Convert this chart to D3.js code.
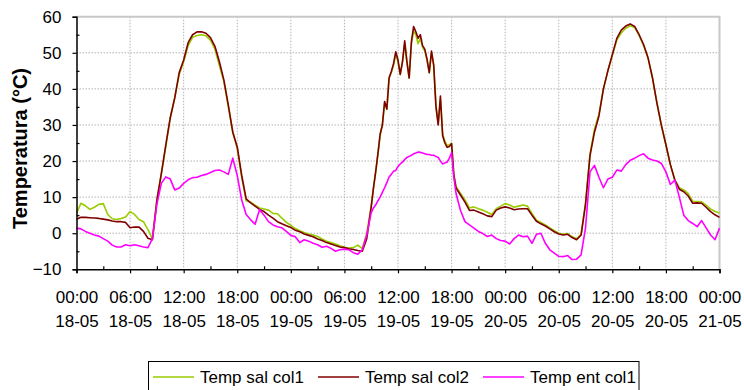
<!DOCTYPE html>
<html>
<head>
<meta charset="utf-8">
<script src="https://cdn.jsdelivr.net/npm/d3@7"></script>
<style>
  html, body { margin: 0; padding: 0; background: #fff; }
  svg { display: block; font-family: "Liberation Sans", Arial, sans-serif; }
</style>
</head>
<body>
<svg id="chart" width="744" height="390"></svg>
<script>
// Sample times in hours from 18-05 00:00 (15-minute readings during the noisy midday of 19-05)
const hours = [
  ...d3.range(0, 33, 0.5),
  ...d3.range(33, 42.5, 0.25),
  ...d3.range(42.5, 72.001, 0.5)
];

// Temp sal col1 (°C)
const salCol1 = [
  5.5, 8.3, 7.6, 6.6, 7.2, 8.0, 8.2, 5.2, 4.0, 3.8, 4.1, 4.5, 6.0, 5.2, 3.8, 3.2, 1.0, -1.5,
  9.5, 16.5, 24, 32, 37.5, 44, 47.5, 52, 54.3, 54.8, 55, 54.7, 53.5, 51, 46.5, 42, 35, 28,
  23.5, 15.5, 9, 8.6, 7.8, 7.0, 6.7, 6.4, 5.5, 5.4, 4.2, 3.0,
  2.2, 1.3, 0.7, 0.2, -0.2, -0.5, -0.9, -1.6, -2.2, -2.6, -3.0, -3.5, -3.9, -4.1, -4.0, -3.3, -4.3, 0.0,
  7.5, 12.5, 17, 22, 27, 30, 36, 34.4, 43, 44.5, 46.5, 49.5,
  47.5, 44, 47.5, 52.5, 47.5, 43, 52.5, 56, 55, 52.5, 54, 51.5,
  50.5, 48, 44.5, 50, 46.5, 35.5, 30.5, 37, 27.5, 25.5, 24.3, 24.5, 25, 16.5,
  13, 11, 9.2, 7, 7.3, 6.8, 6.4, 5.8, 5.2, 6.8, 7.5, 8.2,
  7.8, 7.2, 7.5, 7.8, 7.5, 5.5, 3.6, 3.0, 2.3, 1.5, 0.7, 0.0, -0.3, -0.1, -1.0, -1.5, -0.3,
  8.5, 22, 28.8, 33, 40, 45, 49.3, 53.5, 55.5, 56.8, 57.5, 57, 54.8, 52, 48.5, 43, 36, 29.8,
  24.5, 19, 14.8, 12.6, 12, 11, 8.8, 8.8, 8.7, 7.8, 6.7, 6.0, 5.6
];

// Temp sal col2 (°C)
const salCol2 = [
  3.9, 4.4, 4.4, 4.3, 4.2, 4.1, 3.9, 3.7, 3.4, 3.2, 3.2, 3.0, 1.5, 1.7, 1.7, 0.5, -1.4, -1.8,
  9.0, 16.5, 24.5, 32, 37.5, 44.5, 48, 52.8, 55, 55.8, 55.8, 55.4, 54.2, 51.8, 47.5, 42.5, 35.5, 28,
  23.9, 16, 9.5, 8.4, 7.5, 6.6, 6.0, 5.0, 4.2, 3.2, 2.6, 2.1,
  1.6, 0.8, 0.4, -0.2, -0.6, -1.0, -1.6, -2.0, -2.6, -3.0, -3.4, -3.8, -4.0, -4.3, -4.5, -4.8, -5.0, -1.5,
  7.3, 12.5, 17, 22, 27.5, 30, 36.5, 34.4, 43, 44.8, 47, 50.3,
  48, 44, 47.5, 53.3, 47.5, 43, 53, 57.3, 55.8, 54, 55, 52,
  51, 48.2, 44.5, 50.5, 46.5, 35, 30, 38, 27, 25, 23.8, 24, 24.8, 16,
  12.5, 10.6, 8.6, 6.3, 6.4, 5.9, 5.4, 4.8, 4.6, 6.4, 7.0, 7.3,
  7.0, 6.5, 6.7, 6.8, 6.8, 5.0, 3.3, 2.6, 2.0, 1.2, 0.4, -0.2, -0.5, -0.3, -1.2, -1.8, -0.5,
  8, 21.5, 28, 32.5, 40, 45, 49.5, 54, 56.3, 57.4, 58, 57.3, 55, 52.3, 48.6, 43, 36, 29.8,
  24.5, 19, 14.7, 12.2, 11.5, 10.3, 8.3, 8.4, 8.3, 7.2, 6.0, 5.1, 4.4
];

// Temp ent col1 (°C)
const entCol1 = [
  1.4, 1.2, 0.5, 0, -0.5, -0.8, -1.5, -2.2, -3.3, -3.8, -3.8, -3.2, -3.5, -3.2, -3.5, -3.8, -4.0, -1.5,
  8, 13.8, 15.6, 15, 12, 12.5, 13.8, 14.8, 15.4, 15.5, 16, 16.3, 16.8, 17.4, 17.5, 17, 16.3, 20.8,
  16, 9.2, 5.2, 3.7, 2.5, 6.6, 5, 3.2, 2.3, 1.8, 1.5, 0.5,
  -0.6, -1.0, -2.6, -1.8, -2.2, -2.8, -3.2, -3.9, -3.6, -4.2, -5.0, -4.6, -4.4, -4.6, -5.4, -5.8, -4.6, -0.5,
  5.7, 7, 7.8, 9, 10, 11.3, 12.6, 14, 15.6, 16.3, 17.2, 17.4,
  18.5, 19.2, 19.7, 20.4, 21, 21.3, 21.6, 22, 22.2, 22.5, 22.4, 22.2,
  22, 21.8, 21.8, 21.6, 21.6, 21.3, 21.0, 20, 19.2, 19.5, 19.7, 20.8, 22.3, 15.6,
  11, 6.3, 3.2, 2.3, 1.4, 0.5, -0.1, -0.9, -0.5, -1.5, -2.0, -2.2,
  -3.0, -1.5, -0.5, -1.0, -0.8, -2.8, -0.3, 0.0, -2.8, -4.6, -5.5, -6.4, -6.5, -6.2, -7.3, -7.2, -6.0,
  1.5, 17, 18.8, 15.5, 12.6, 15, 15.5, 17.5, 17.2, 19, 20.2, 20.8, 21.5, 22, 20.8, 20.3, 20, 19.3,
  17, 13.5, 14.7, 10, 5, 3.5, 2.7, 1.8, 3.5, 1.5, -0.5, -1.8, 1.4
];

// Axis tick labels (every 6 hours)
const tickHours = d3.range(0, 73, 6);
const timeLabels = ["00:00", "06:00", "12:00", "18:00", "00:00", "06:00", "12:00",
                    "18:00", "00:00", "06:00", "12:00", "18:00", "00:00"];
const dateLabels = ["18-05", "18-05", "18-05", "18-05", "19-05", "19-05", "19-05",
                    "19-05", "20-05", "20-05", "20-05", "20-05", "21-05"];
const yTicks = [-10, 0, 10, 20, 30, 40, 50, 60];

const seriesNames = ["Temp sal col1", "Temp sal col2", "Temp ent col1"];
const seriesColors = ["#99cc00", "#800000", "#ff00ff"];
const seriesData = [salCol1, salCol2, entCol1];

const svg = d3.select("#chart");
const plotLeft = 76.5, plotRight = 719.5, plotTop = 16.7, plotBottom = 269.3;

const x = d3.scaleLinear().domain([0, 72]).range([plotLeft, plotRight]);
const y = d3.scaleLinear().domain([-10, 60]).range([plotBottom, plotTop]);

// Gridlines (dotted)
const grid = svg.append("g");
grid.selectAll("line.h")
  .data(yTicks.filter(v => v > -10 && v < 60))
  .join("line")
  .attr("x1", plotLeft).attr("x2", plotRight)
  .attr("y1", d => y(d)).attr("y2", d => y(d))
  .attr("stroke", "#b4b4b4").attr("stroke-width", 1)
  .attr("stroke-dasharray", "1.5,1.5");
grid.selectAll("line.v")
  .data(tickHours.filter(h => h > 0 && h < 72))
  .join("line")
  .attr("x1", d => x(d)).attr("x2", d => x(d))
  .attr("y1", plotTop).attr("y2", plotBottom)
  .attr("stroke", "#b4b4b4").attr("stroke-width", 1)
  .attr("stroke-dasharray", "1.5,1.5");

// Plot area frame: light gray top and right edges
svg.append("path")
  .attr("d", `M${plotLeft},${plotTop}H${plotRight}V${plotBottom}`)
  .attr("fill", "none").attr("stroke", "#c8c8c8").attr("stroke-width", 2);

// Series lines
const line = d3.line()
  .x((d, i) => x(hours[i]))
  .y(d => y(d));

svg.append("g").selectAll("path")
  .data(seriesData)
  .join("path")
  .attr("d", d => line(d))
  .attr("fill", "none")
  .attr("stroke", (d, i) => seriesColors[i])
  .attr("stroke-width", 1.6)
  .attr("stroke-linejoin", "round");

// Y axis
const yAxis = svg.append("g")
  .attr("transform", `translate(${plotLeft},0)`)
  .call(d3.axisLeft(y).tickValues(yTicks).tickSize(4).tickPadding(11).tickFormat(d3.format("d")));
yAxis.select(".domain").attr("stroke", "#000").attr("stroke-width", 1.5);
yAxis.selectAll(".tick line").attr("stroke", "#000").attr("stroke-width", 1.2);
yAxis.selectAll(".tick text")
  .attr("font-size", 17).attr("fill", "#000")
  .attr("font-family", "'Liberation Sans', Arial, sans-serif");
// Minor y ticks inside the plot
svg.append("g")
  .attr("transform", `translate(${plotLeft},0)`)
  .call(d3.axisRight(y).tickValues(d3.range(-5, 60, 10)).tickSize(3).tickFormat(""))
  .call(g => g.select(".domain").remove())
  .call(g => g.selectAll(".tick line").attr("stroke", "#000").attr("stroke-width", 1.2));

// X axis
const xAxis = svg.append("g")
  .attr("transform", `translate(0,${plotBottom})`)
  .call(d3.axisBottom(x).tickValues(tickHours).tickSize(4).tickFormat(""));
xAxis.select(".domain").attr("stroke", "#000").attr("stroke-width", 1.5);
xAxis.selectAll(".tick line").attr("stroke", "#000").attr("stroke-width", 1.2);
xAxis.selectAll(".tick").append("text")
  .attr("fill", "#000").attr("font-size", 17).attr("text-anchor", "middle")
  .attr("font-family", "'Liberation Sans', Arial, sans-serif")
  .each(function (d, i) {
    const t = d3.select(this);
    t.append("tspan").attr("x", 0).attr("y", 33.4).text(timeLabels[i]);
    t.append("tspan").attr("x", 0).attr("y", 57.8).text(dateLabels[i]);
  });
// Minor x ticks inside the plot
svg.append("g")
  .attr("transform", `translate(0,${plotBottom})`)
  .call(d3.axisTop(x).tickValues(d3.range(3, 72, 6)).tickSize(3).tickFormat(""))
  .call(g => g.select(".domain").remove())
  .call(g => g.selectAll(".tick line").attr("stroke", "#000").attr("stroke-width", 1.2));

// Y axis title
svg.append("text")
  .attr("transform", "translate(27,148.5) rotate(-90)")
  .attr("text-anchor", "middle")
  .attr("font-size", 20).attr("font-weight", "bold").attr("fill", "#000")
  .text("Temperatura (°C)");

// Legend
const legend = svg.append("g");
legend.append("rect")
  .attr("x", 148.5).attr("y", 361.5).attr("width", 490.5).attr("height", 40)
  .attr("fill", "#fff").attr("stroke", "#000").attr("stroke-width", 1);
const legendX = [153, 318, 483];
const items = legend.selectAll("g.item")
  .data(seriesNames)
  .join("g")
  .attr("transform", (d, i) => `translate(${legendX[i]},0)`);
items.append("line")
  .attr("x1", 0).attr("x2", 41).attr("y1", 377).attr("y2", 377)
  .attr("stroke", (d, i) => seriesColors[i]).attr("stroke-width", 1.6);
items.append("text")
  .attr("x", 47).attr("y", 382.5)
  .attr("font-size", 17).attr("fill", "#000")
  .text(d => d);
</script>
</body>
</html>
